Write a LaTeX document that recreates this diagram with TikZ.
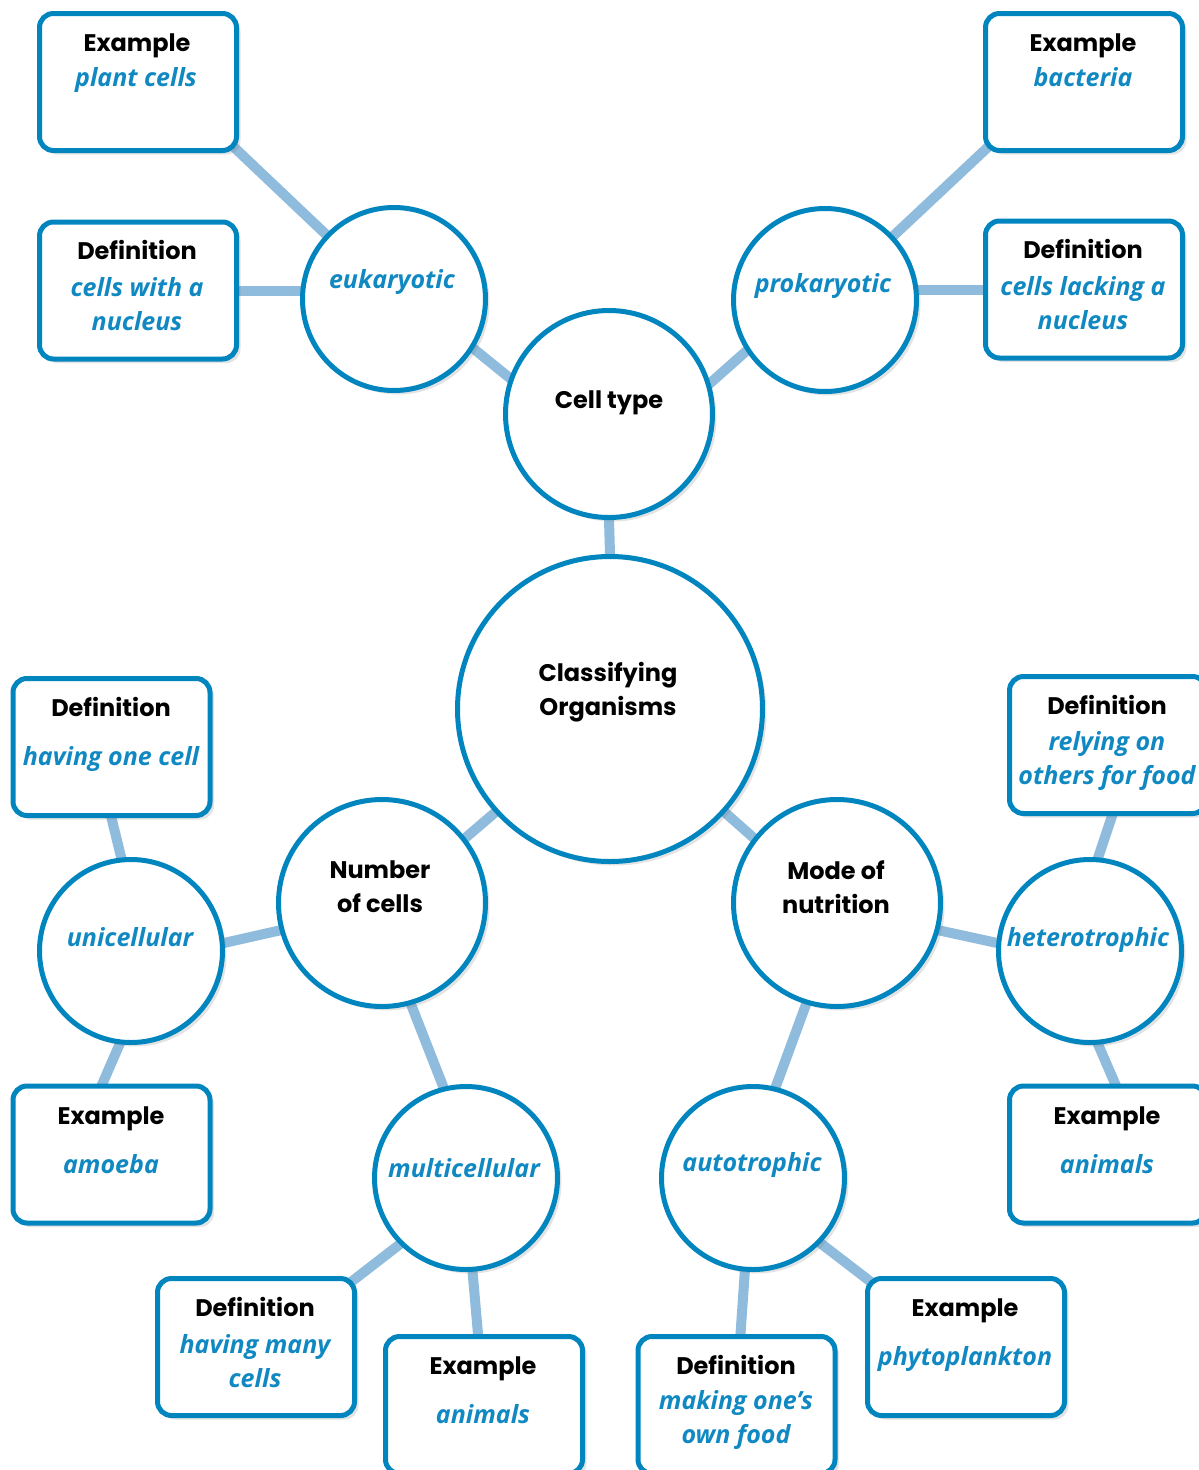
\documentclass[tikz,border=0pt]{standalone}
\usepackage{fontspec}
\usetikzlibrary{shadows,backgrounds,calc}
\newfontfamily\myheadbase{Poppins}
\newcommand\myhead{\myheadbase\bfseries}
\newfontfamily\mybodybase{Open Sans}
\newcommand\mybody{\mybodybase\bfseries\itshape}
\definecolor{cblue}{RGB}{0,133,191}
\definecolor{ctext}{RGB}{16,136,194}
\definecolor{clink}{RGB}{143,187,220}
\tikzset{
  sh/.style={drop shadow={opacity=0.22, shadow xshift=4pt, shadow yshift=-4pt}},
  bub/.style={circle, draw=cblue, line width=5pt, fill=white, inner sep=0pt, sh},
  smallc/.style={bub, minimum size=183pt},
  midc/.style={bub, minimum size=207pt},
  bigc/.style={bub, minimum size=305pt},
  card/.style={rectangle, rounded corners=14pt, draw=cblue, line width=5pt, fill=white, minimum width=197pt, minimum height=137pt, inner sep=0pt, sh},
  hd/.style={font=\myhead\fontsize{24}{34}\selectfont, text=black, align=center, inner sep=0pt},
  bd/.style={font=\mybody\fontsize{25}{34}\selectfont, text=ctext, align=center, inner sep=0pt},
  link/.style={draw=clink, line width=10pt, shorten <=-6pt, shorten >=-6pt},
}
\begin{document}
\begin{tikzpicture}[x=1pt,y=-1pt]
\useasboundingbox (0,0) rectangle (1199,1470);
% circles
\node[midc] (cell) at (609,414) {};
\node[bigc] (class) at (610,709) {};
\node[smallc] (euk) at (394,299) {};
\node[smallc] (prok) at (825,300) {};
\node[midc] (num) at (382,903) {};
\node[midc] (mode) at (837,903) {};
\node[smallc] (uni) at (131,951) {};
\node[smallc] (multi) at (466,1178) {};
\node[smallc] (auto) at (753,1178) {};
\node[smallc] (het) at (1090,951) {};
% circle texts
\node[hd] (cellt) at (609,403) {Cell type};
\node[hd] (classt) at (608,692) {Classifying\\Organisms};
\node[bd] (eukt) at (392,282) {eukaryotic};
\node[bd] (prokt) at (823,286) {prokaryotic};
\node[hd] (numt) at (380,887) {Number\\of cells};
\node[hd] (modet) at (836,887) {Mode of\\nutrition};
\node[bd] (unit) at (130,937) {unicellular};
\node[bd] (multit) at (464,1168) {multicellular};
\node[bd] (autot) at (752,1165) {autotrophic};
\node[bd] (hett) at (1088,940) {heterotrophic};
% cards
\node[card] (pc) at (138,82) {};
\node[card] (dn) at (138,290.5) {};
\node[card] (bac) at (1084,82) {};
\node[card] (dl) at (1084,289.5) {};
\node[card] (one) at (111.5,747) {};
\node[card] (amo) at (111.5,1154.5) {};
\node[card] (rely) at (1108,745) {};
\node[card] (anr) at (1108,1154.5) {};
\node[card] (many) at (256,1347) {};
\node[card] (an2) at (484,1405) {};
\node[card] (food) at (736.5,1405) {};
\node[card] (phy) at (966,1347) {};
% card texts
\node[hd] (pch) at (137,46) {Example};
\node[bd] (pcb) at (136,80) {plant cells};
\node[hd] (dnh) at (137,250) {Definition};
\node[bd] (dnb) at (137,304) {cells with a\\nucleus};
\node[hd] (bach) at (1083,46) {Example};
\node[bd] (bacb) at (1083,77) {bacteria};
\node[hd] (dlh) at (1083,249) {Definition};
\node[bd] (dlb) at (1083,303) {cells lacking a\\nucleus};
\node[hd] (oneh) at (111,707) {Definition};
\node[bd] (oneb) at (111,759) {having one cell};
\node[hd] (amoh) at (111,1119) {Example};
\node[bd] (amob) at (111,1164) {amoeba};
\node[hd] (relyh) at (1107,705) {Definition};
\node[bd] (relyb) at (1107,761) {relying on\\others for food};
\node[hd] (anrh) at (1107,1119) {Example};
\node[bd] (anrb) at (1107,1164) {animals};
\node[hd] (manyh) at (255,1307) {Definition};
\node[bd] (manyb) at (255,1361) {having many\\cells};
\node[hd] (an2h) at (483,1369) {Example};
\node[bd] (an2b) at (483,1414) {animals};
\node[hd] (foodh) at (736,1365) {Definition};
\node[bd] (foodb) at (736,1420) {making one’s\\own food};
\node[hd] (phyh) at (965,1311) {Example};
\node[bd] (phyb) at (965,1359) {phytoplankton};
% connectors
\begin{scope}[on background layer]
\fill[white] (0,0) rectangle (1199,1470);
\draw[link] ($(pc.south east)+(-20,-20)$) -- (euk.center);
\draw[link] (dn.east) -- (dn.east -| euk.west);
\draw[link] ($(bac.south west)+(20,-20)$) -- (prok.center);
\draw[link] (dl.west) -- (dl.west -| prok.east);
\draw[link] (euk.-32) -- (cell.160);
\draw[link] (prok.213) -- (cell.17);
\draw[link] (cell.south) -- (class.north);
\draw[link] (class.222) -- (num.38);
\draw[link] (class.-42) -- (mode.142);
\draw[link] (num.195) -- (uni.5);
\draw[link] (mode.-15) -- (het.175);
\draw[link] (num.-74) -- (multi.104);
\draw[link] (mode.253) -- (auto.76);
\draw[link] (one.south) -- (uni.96);
\draw[link] (uni.263) -- ($(amo.north)+(-9,0)$);
\draw[link] ($(rely.south)+(4,0)$) -- (het.85);
\draw[link] (het.-85) -- ($(anr.north)+(7,0)$);
\draw[link] (multi.225) -- ($(many.north east)+(-6,6)$);
\draw[link] (multi.-86) -- ($(an2.north)+(-6,0)$);
\draw[link] (auto.-95) -- ($(food.north)+(4,0)$);
\draw[link] (auto.-44) -- ($(phy.north west)+(6,6)$);
\end{scope}
\end{tikzpicture}
\end{document}
